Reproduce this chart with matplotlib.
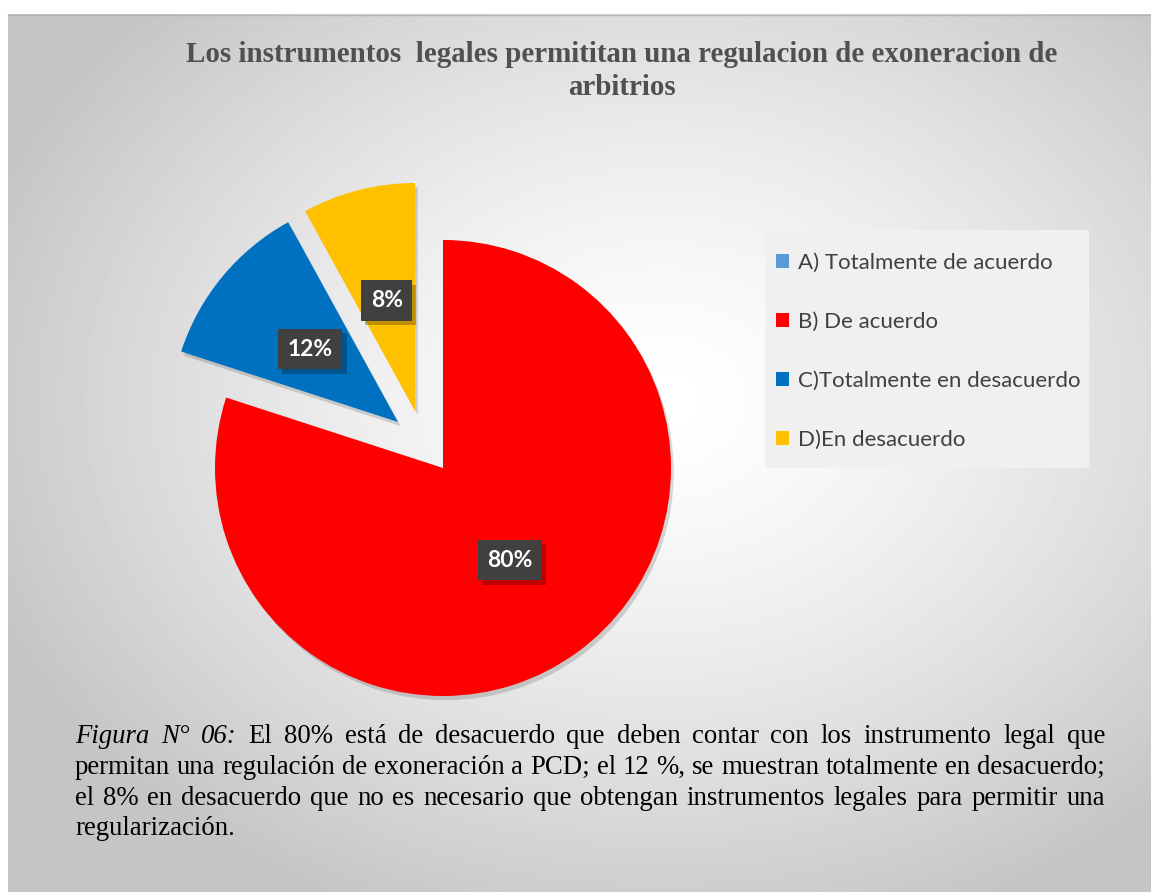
import numpy as np
import matplotlib
matplotlib.use('Agg')
import matplotlib.pyplot as plt
import matplotlib.patheffects as pe
from matplotlib.patches import Rectangle

W, H = 1151, 892

# data
categories = ['A) Totalmente de acuerdo', 'B) De acuerdo', 'C)Totalmente en desacuerdo', 'D)En desacuerdo']
values = [0, 80, 12, 8]
pct_labels = ['', '80%', '12%', '8%']
colors = ['#5B9BD5', '#FF0000', '#0070C0', '#FFC000']

title_lines = ['Los instrumentos  legales permititan una regulacion de exoneracion de', 'arbitrios']
caption_italic = 'Figura N° 06:'
caption_lines = [
    'El 80% está de desacuerdo que deben contar con los  instrumento legal que',
    'permitan una regulación de exoneración a PCD; el 12 %, se muestran totalmente en desacuerdo;',
    'el 8% en desacuerdo que no es necesario que obtengan instrumentos legales para permitir una',
    'regularización.',
]

fig = plt.figure(figsize=(W / 100, H / 100), dpi=100, facecolor='white')

# background radial gradient
bg = fig.add_axes([0, 0, 1, 1], zorder=-5)
yy, xx = np.mgrid[14:H, 8:W]
d = np.sqrt(((xx - 660) / 720.0) ** 2 + ((yy - 400) / 560.0) ** 2)
shade = 1.0 - 0.23 * np.clip(d, 0, 1) ** 1.4
bg.imshow(shade, cmap='gray', vmin=0, vmax=1, extent=(8, W, H, 14), aspect='auto', interpolation='bilinear')
bg.plot([8, W], [14.5, 14.5], color='#b4b4b4', lw=1)
# legend box
bg.add_patch(Rectangle((765, 230), 1089 - 765, 468 - 230, fc='#f0f0f0', ec='none'))
bg.set_xlim(0, W)
bg.set_ylim(H, 0)
bg.axis('off')

# pie axes, 1 data unit = 228 px, center at (443, 468)
R = 228.0
cx, cy = 443, 468
x0, x1, ytop, ybot = 150, 740, 140, 720
ax = fig.add_axes([x0 / W, 1 - ybot / H, (x1 - x0) / W, (ybot - ytop) / H])
ax.patch.set_alpha(0)
wedges, _ = ax.pie(values, colors=colors, startangle=90, counterclock=False, radius=1,
                   wedgeprops=dict(linewidth=0))
ax.set_aspect('auto')
ax.set_xlim((x0 - cx) / R, (x1 - cx) / R)
ax.set_ylim((cy - ybot) / R, (cy - ytop) / R)
ax.axis('off')

leg = ax.legend(wedges, categories, loc='upper left',
                bbox_to_anchor=(776 / W, 1 - 253 / H),
                bbox_transform=fig.transFigure, borderaxespad=0,
                frameon=False, prop=dict(family='Lato', size=16),
                labelcolor='#404040', handlelength=0.6, handleheight=0.6,
                handletextpad=0.4, labelspacing=1.75, borderpad=0)

offsets = [(0, 0), (0, 0), (-45 / R, 46 / R), (-28 / R, 57 / R)]
for w, off, lab in zip(wedges, offsets, pct_labels):
    w.set_center(off)
    w.set_path_effects([pe.SimplePatchShadow(offset=(2, -3), shadow_rgbFace='k', alpha=0.15), pe.Normal()])
    if not lab:
        continue
    mid = np.deg2rad((w.theta1 + w.theta2) / 2)
    tx = off[0] + 0.5 * np.cos(mid)
    ty = off[1] + 0.5 * np.sin(mid)
    t = ax.text(tx, ty, lab, ha='center', va='center', color='white', fontsize=16.5,
                family='Lato', weight='bold',
                bbox=dict(boxstyle='square,pad=0.42', fc='#404040', ec='none'))
    t.get_bbox_patch().set_path_effects([pe.SimplePatchShadow(offset=(3, -3), shadow_rgbFace='k', alpha=0.25), pe.Normal()])

# title
for line, base in zip(title_lines, [62, 95]):
    fig.text(622 / W, 1 - base / H, line, ha='center', va='baseline', fontsize=20.9,
             family='Liberation Serif', weight='bold', color='#505050')

# caption, justified word by word
cap_fs = 19.3
fig.canvas.draw()
rend = fig.canvas.get_renderer()


def width_px(s, style):
    t = fig.text(0, 0, s, fontsize=cap_fs, family='Liberation Serif', style=style)
    w = t.get_window_extent(rend).width
    t.remove()
    return w


left, right = 75, 1105
baselines = [743, 774, 805, 835]
space = width_px('a a', 'normal') - width_px('aa', 'normal')
for i, line in enumerate(caption_lines):
    toks = [(wd, 'normal') for wd in line.split()]
    if i == 0:
        toks = [(wd, 'italic') for wd in caption_italic.split()] + toks
    widths = [width_px(s, st) for s, st in toks]
    if i < len(caption_lines) - 1:
        gap = max(space, (right - left - sum(widths)) / (len(toks) - 1))
    else:
        gap = space
    x = left
    for (s, st), wd in zip(toks, widths):
        fig.text(x / W, 1 - baselines[i] / H, s, fontsize=cap_fs, family='Liberation Serif',
                 style=st, va='baseline', color='black')
        x += wd + gap

fig.savefig('out.png', dpi=100, facecolor='white')
